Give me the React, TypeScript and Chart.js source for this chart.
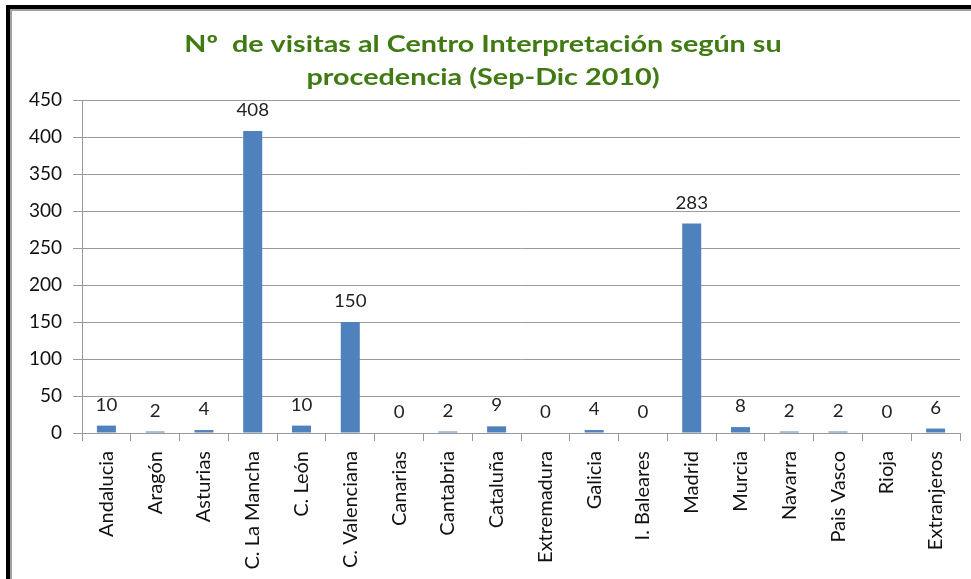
import React, { useEffect, useRef } from "react";
import { Chart, registerables } from "chart.js";

Chart.register(...registerables);

const categories = [
  "Andalucia",
  "Aragón",
  "Asturias",
  "C. La Mancha",
  "C. León",
  "C. Valenciana",
  "Canarias",
  "Cantabria",
  "Cataluña",
  "Extremadura",
  "Galicia",
  "I. Baleares",
  "Madrid",
  "Murcia",
  "Navarra",
  "Pais Vasco",
  "Rioja",
  "Extranjeros",
];

const visitas = [10, 2, 4, 408, 10, 150, 0, 2, 9, 0, 4, 0, 283, 8, 2, 2, 0, 6];

const titleLines = [
  "Nº  de visitas al Centro Interpretación según su",
  "procedencia (Sep-Dic 2010)",
];

const FONT = "Lato, 'Open Sans', sans-serif";

const valueLabels = {
  id: "valueLabels",
  afterDatasetsDraw(chart: any) {
    const ctx = chart.ctx;
    const meta = chart.getDatasetMeta(0);
    ctx.save();
    ctx.font = `17px ${FONT}`;
    ctx.fillStyle = "#222222";
    ctx.textAlign = "center";
    ctx.textBaseline = "alphabetic";
    meta.data.forEach((bar: any, i: number) => {
      const v = chart.data.datasets[0].data[i];
      ctx.save();
      ctx.translate(bar.x, bar.y - 15);
      ctx.scale(1.1, 1);
      ctx.fillText(String(v), 0, 0);
      ctx.restore();
    });
    ctx.restore();
  },
};

const stretchedTitle = {
  id: "stretchedTitle",
  afterDraw(chart: any) {
    const ctx = chart.ctx;
    ctx.save();
    ctx.font = `bold 23px ${FONT}`;
    ctx.fillStyle = "#3F7A12";
    ctx.textAlign = "center";
    ctx.textBaseline = "alphabetic";
    const baselines = [52, 85];
    titleLines.forEach((line, i) => {
      ctx.save();
      ctx.translate(483, baselines[i]);
      ctx.scale(1.25, 1);
      ctx.fillText(line, 0, 0);
      ctx.restore();
    });
    ctx.restore();
  },
};

export default function App() {
  const ref = useRef<HTMLCanvasElement | null>(null);

  useEffect(() => {
    if (!ref.current) return;
    const chart = new Chart(ref.current, {
      type: "bar",
      data: {
        labels: categories,
        datasets: [
          {
            data: visitas,
            backgroundColor: "#4F81BD",
            borderWidth: 0,
            barPercentage: 0.39,
            categoryPercentage: 1,
          },
        ],
      },
      options: {
        responsive: false,
        animation: false,
        maintainAspectRatio: false,
        layout: { padding: { left: 0, right: 11, top: 100, bottom: 0 } },
        plugins: {
          legend: { display: false },
          tooltip: { enabled: false },
          title: { display: false },
        },
        scales: {
          x: {
            grid: {
              offset: true,
              drawOnChartArea: false,
              drawTicks: true,
              tickLength: 8,
              color: "#999999",
            },
            border: { display: true, color: "#999999" },
            ticks: {
              color: "#111111",
              font: { family: FONT, size: 20 },
              maxRotation: 90,
              minRotation: 90,
              padding: 10,
              autoSkip: false,
            },
            afterFit(scale: any) {
              scale.height = 146;
            },
          },
          y: {
            min: 0,
            max: 450,
            ticks: {
              stepSize: 50,
              color: "#111111",
              font: { family: FONT, size: 19 },
              padding: 11,
            },
            grid: { color: "#9a9a9a", tickLength: 9 },
            border: { display: true, color: "#999999" },
            afterFit(scale: any) {
              scale.width = 82;
            },
          },
        },
      },
      plugins: [valueLabels, stretchedTitle],
    });
    return () => chart.destroy();
  }, []);

  return (
    <div
      style={{
        position: "fixed",
        left: 0,
        top: 0,
        width: 971,
        height: 579,
        background: "#ffffff",
        overflow: "hidden",
      }}
    >
      <div
        style={{
          position: "absolute",
          left: 6,
          top: 5,
          width: 1000,
          height: 600,
          borderLeft: "4px solid #000",
          borderTop: "4px solid #000",
        }}
      />
      <div
        style={{
          position: "absolute",
          left: 10,
          top: 9,
          width: 1000,
          height: 600,
          borderLeft: "2px solid #a0a0a0",
          borderTop: "2px solid #a0a0a0",
        }}
      />
      <canvas
        ref={ref}
        width={971}
        height={579}
        style={{ position: "absolute", left: 0, top: 0, width: 971, height: 579 }}
      />
    </div>
  );
}
